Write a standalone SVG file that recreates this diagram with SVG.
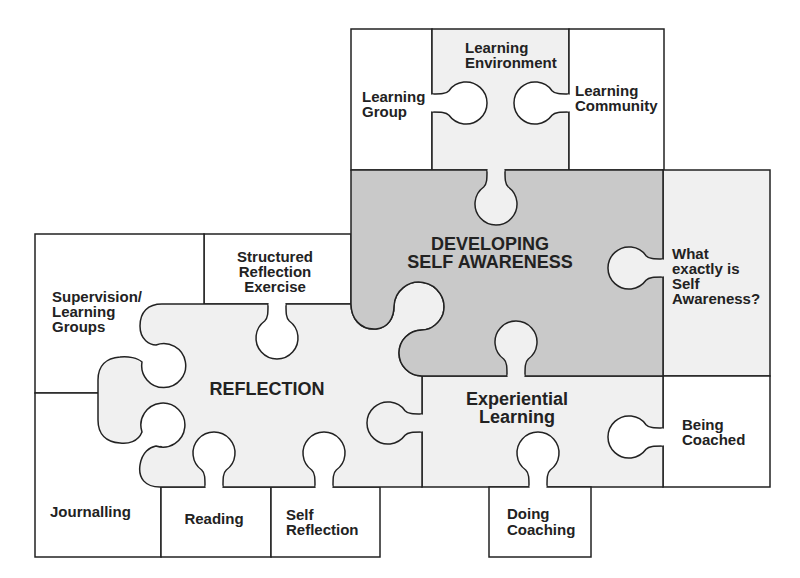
<svg xmlns="http://www.w3.org/2000/svg" xmlns:xlink="http://www.w3.org/1999/xlink" width="800" height="578" viewBox="0 0 800 578">
<style>
.w{fill:#fff;stroke:#222;stroke-width:1.5}
.l{fill:#f0f0f0;stroke:#222;stroke-width:1.5}
.d{fill:#c9c9c9;stroke:#222;stroke-width:1.5;stroke-linejoin:round}
text{font-family:"Liberation Sans",Arial,sans-serif;font-weight:bold;font-size:15px;fill:#222}
.big{font-size:18px}
.m{text-anchor:middle}
</style>
<defs>
<g id="knob">
<path d="M0,-9 C9,-9 14,-9 17,-12.3 A21 21 0 1 1 17 12.3 C14 9 9 9 0 9" fill="currentColor" stroke="#222" stroke-width="1.5"/>
<line x1="0" y1="-8.4" x2="0" y2="8.4" stroke="currentColor" stroke-width="3"/>
</g>
</defs>
<rect fill="#fff" width="800" height="578"/>
<g id="learning-group"><rect class="w" x="351" y="29" width="81" height="141"/></g>
<g id="learning-environment"><rect class="l" x="432" y="29" width="137" height="141"/></g>
<g id="learning-community"><rect class="w" x="569" y="29" width="95" height="141"/></g>
<g id="what-exactly"><rect class="l" x="663" y="170" width="107" height="206"/></g>
<g id="being-coached"><rect class="w" x="663" y="376" width="107" height="111"/></g>
<g id="experiential"><rect class="l" x="422" y="376" width="241" height="111"/></g>
<g id="doing-coaching"><rect class="w" x="489" y="487" width="102" height="70"/></g>
<g id="structured"><rect class="w" x="204" y="234" width="147" height="70"/></g>
<g id="supervision"><rect class="w" x="35" y="234" width="169" height="159"/></g>
<g id="journalling"><rect class="w" x="35" y="393" width="126" height="164"/><circle cx="162" cy="424" r="22" fill="#fff"/></g>
<g id="reading"><rect class="w" x="161" y="487" width="110" height="70"/></g>
<g id="self-reflection"><rect class="w" x="271" y="487" width="109" height="70"/></g>
<g id="reflection"><path class="l" d="M162 304 H351 C351 318 360 330 376 329 C388 328 394 318 394 306 A25 25 0 1 1 443 314 C440 322 432 330 422 330 A23 23 0 0 0 399 353 A23 23 0 0 0 422 376 V487 H160 C145 487 138 478 140 465 C142 452 150 447 156 446 A22 22 0 1 0 142 432 C138 442 128 444 120 443 C106 442 98 434 98 420 V380 C98 366 106 358 120 357 C128 356 138 358 142 362 A22 22 0 1 0 156 345 C150 345 140 340 140 326 C140 312 148 304 162 304 Z"/></g>
<g id="developing"><path class="d" d="M351 170 H663 V376 H422 A23 23 0 0 1 399 353 A23 23 0 0 1 422 330 C432 330 440 322 443 314 A25 25 0 1 0 394 306 C394 318 388 328 376 329 C360 330 351 318 351 304 Z"/></g>
<g id="connectors">
<use xlink:href="#knob" color="#fff" transform="translate(432,103)"/>
<use xlink:href="#knob" color="#fff" transform="translate(569,103) rotate(180)"/>
<use xlink:href="#knob" color="#f0f0f0" transform="translate(496,170) rotate(90)"/>
<use xlink:href="#knob" color="#f0f0f0" transform="translate(663,268) rotate(180)"/>
<use xlink:href="#knob" color="#f0f0f0" transform="translate(516,376) rotate(-90)"/>
<use xlink:href="#knob" color="#fff" transform="translate(663,437) rotate(180)"/>
<use xlink:href="#knob" color="#fff" transform="translate(538,487) rotate(-90)"/>
<use xlink:href="#knob" color="#f0f0f0" transform="translate(422,423) rotate(180)"/>
<use xlink:href="#knob" color="#fff" transform="translate(277,304) rotate(90)"/>
<use xlink:href="#knob" color="#fff" transform="translate(214,487) rotate(-90)"/>
<use xlink:href="#knob" color="#fff" transform="translate(324,487) rotate(-90)"/>
</g>
<g id="labels">
<text x="362" y="102">Learning</text><text x="362" y="117">Group</text>
<text x="465" y="53">Learning</text><text x="465" y="68">Environment</text>
<text x="575" y="96">Learning</text><text x="575" y="111">Community</text>
<text class="big m" x="490" y="250">DEVELOPING</text><text class="big m" x="490" y="268">SELF AWARENESS</text>
<text x="672" y="259">What</text><text x="672" y="274">exactly is</text><text x="672" y="289">Self</text><text x="672" y="304">Awareness?</text>
<text class="m" x="275" y="262">Structured</text><text class="m" x="275" y="277">Reflection</text><text class="m" x="275" y="292">Exercise</text>
<text x="52" y="302">Supervision/</text><text x="52" y="317">Learning</text><text x="52" y="332">Groups</text>
<text class="big m" x="267" y="395">REFLECTION</text>
<text x="50" y="517">Journalling</text>
<text class="m" x="214" y="524">Reading</text>
<text x="286" y="520">Self</text><text x="286" y="535">Reflection</text>
<text class="big m" x="517" y="405">Experiential</text><text class="big m" x="517" y="423">Learning</text>
<text x="682" y="430">Being</text><text x="682" y="445">Coached</text>
<text x="507" y="519">Doing</text><text x="507" y="535">Coaching</text>
</g>
</svg>
